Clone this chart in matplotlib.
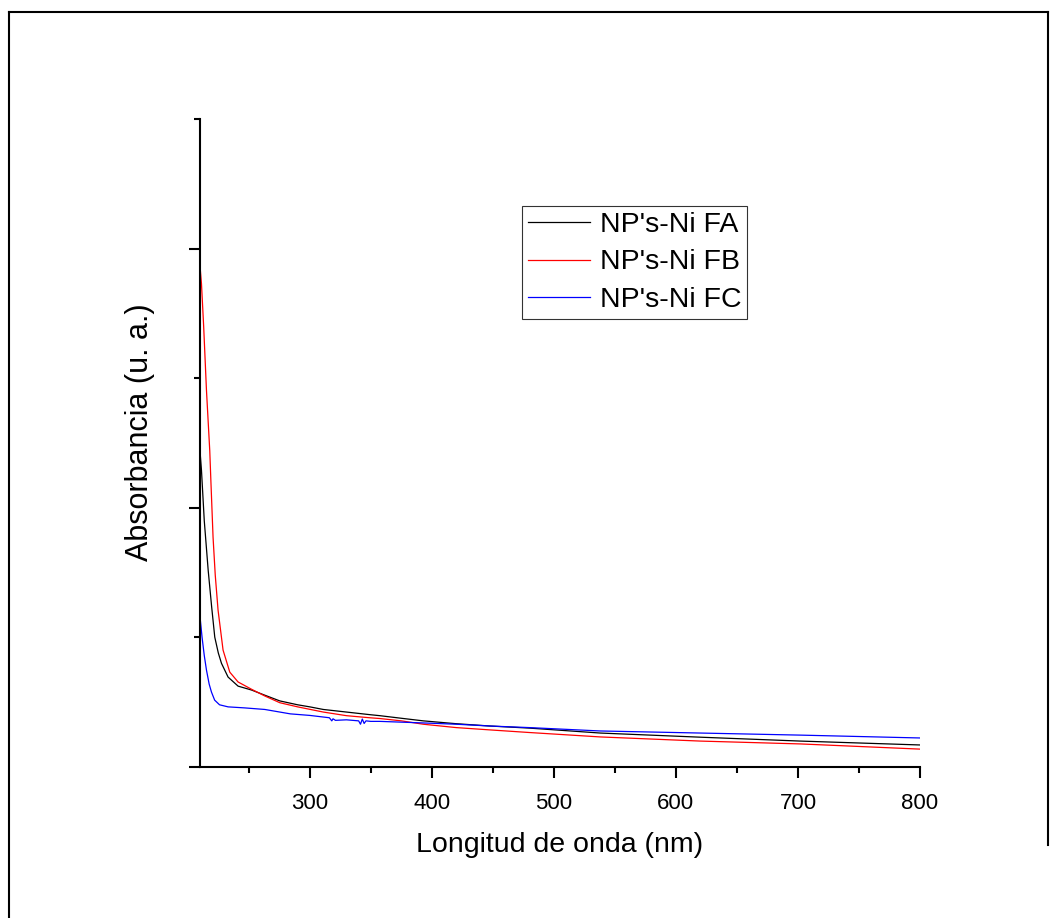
import numpy as np
from matplotlib import pyplot as plt
from matplotlib.lines import Line2D

plt.rcParams['font.family'] = ['Liberation Sans', 'DejaVu Sans']

# wavelength (nm) / absorbance
wl_fa = [209.5, 211.2, 213.5, 216.7, 219.5, 222.1, 225.0, 227.6, 233.0, 241.2, 252.2, 263.1,
         275.4, 290, 300, 311, 330, 349, 357.4, 375, 393, 420, 448, 480, 538, 620, 702, 800]
ab_fa = [1.25, 1.145, 0.95, 0.759, 0.62, 0.501, 0.44, 0.40, 0.347, 0.312, 0.297, 0.277,
         0.255, 0.24, 0.232, 0.222, 0.212, 0.202, 0.198, 0.188, 0.178, 0.167, 0.158, 0.150, 0.131, 0.115, 0.10, 0.085]

wl_fb = [209.0, 211.2, 213.0, 215.3, 218.0, 218.9, 220.7, 222.5, 224.8, 228.9, 234.4, 241.2,
         252.2, 263.1, 275.4, 290, 311, 330, 349, 357.4, 375, 393, 420, 448, 480, 538, 620, 702, 800]
ab_fb = [1.99, 1.865, 1.70, 1.453, 1.22, 1.106, 0.886, 0.74, 0.605, 0.451, 0.366, 0.328,
         0.30, 0.274, 0.248, 0.232, 0.212, 0.198, 0.19, 0.187, 0.178, 0.165, 0.152, 0.143, 0.133, 0.116, 0.10, 0.089, 0.069]

wl_fc = [209.0, 210.0, 211.7, 213.5, 215.3, 217.5, 219.4, 222.0, 226.0, 233.0, 246.7, 263.1,
         284, 300, 316, 318, 319, 321, 330, 340, 341.5, 343, 344.5, 346, 350, 357.4, 393, 420, 448, 480, 538, 620, 702, 800]
ab_fc = [0.69, 0.58, 0.50, 0.43, 0.374, 0.32, 0.289, 0.258, 0.24, 0.232, 0.228, 0.222,
         0.205, 0.199, 0.19, 0.178, 0.186, 0.18, 0.182, 0.178, 0.165, 0.185, 0.168, 0.178, 0.176, 0.176, 0.17, 0.165, 0.158, 0.152, 0.139, 0.131, 0.123, 0.112]

labels = ["NP's-Ni FA", "NP's-Ni FB", "NP's-Ni FC"]

fig = plt.figure(figsize=(10.58, 9.18), dpi=100)
ax = fig.add_axes([200/1058, 1-767/918, 720/1058, 648/918])

ax.plot(wl_fa, ab_fa, color='black', linewidth=0.9, label=labels[0])
ax.plot(wl_fb, ab_fb, color='red', linewidth=0.9, label=labels[1])
ax.plot(wl_fc, ab_fc, color='blue', linewidth=0.9, label=labels[2])

ax.set_xlim(210, 800)
ax.set_ylim(0, 2.5)
ax.set_xticks([300, 400, 500, 600, 700, 800])
ax.set_xticks(np.arange(250, 800, 100), minor=True)
ax.set_yticks([0, 1, 2])
ax.set_yticks([0.5, 1.5, 2.5], minor=True)
ax.set_yticklabels([])
ax.spines['top'].set_visible(False)
ax.spines['right'].set_visible(False)
for s in ['left', 'bottom']:
    ax.spines[s].set_linewidth(1.5)
ax.tick_params(which='major', direction='out', length=8, width=1.5, labelsize=16, pad=11)
ax.tick_params(which='minor', direction='out', length=4.5, width=1.5)

ax.set_xlabel("Longitud de onda (nm)", fontsize=20.5, labelpad=13)
ax.set_ylabel("Absorbancia (u. a.)", fontsize=22)
ax.yaxis.set_label_coords(-0.0625, 0.517)

leg = ax.legend(loc='upper left', bbox_to_anchor=(0.447, 0.866), fontsize=20.5,
                frameon=True, fancybox=False, borderaxespad=0, borderpad=0.2,
                labelspacing=0.42, handlelength=2.2, handletextpad=0.35)
leg.get_frame().set_edgecolor('black')
leg.get_frame().set_linewidth(0.8)

# page frame (top, left, right)
x0, x1 = 9/1058, 1048/1058
y_top = 1 - 12/918
fig.add_artist(Line2D([x0, x1], [y_top, y_top], transform=fig.transFigure, color='black', linewidth=1.5))
fig.add_artist(Line2D([x0, x0], [y_top, 0], transform=fig.transFigure, color='black', linewidth=1.5))
fig.add_artist(Line2D([x1, x1], [y_top, 1 - 845/918], transform=fig.transFigure, color='black', linewidth=1.5))

plt.savefig("out.png")
plt.close()
